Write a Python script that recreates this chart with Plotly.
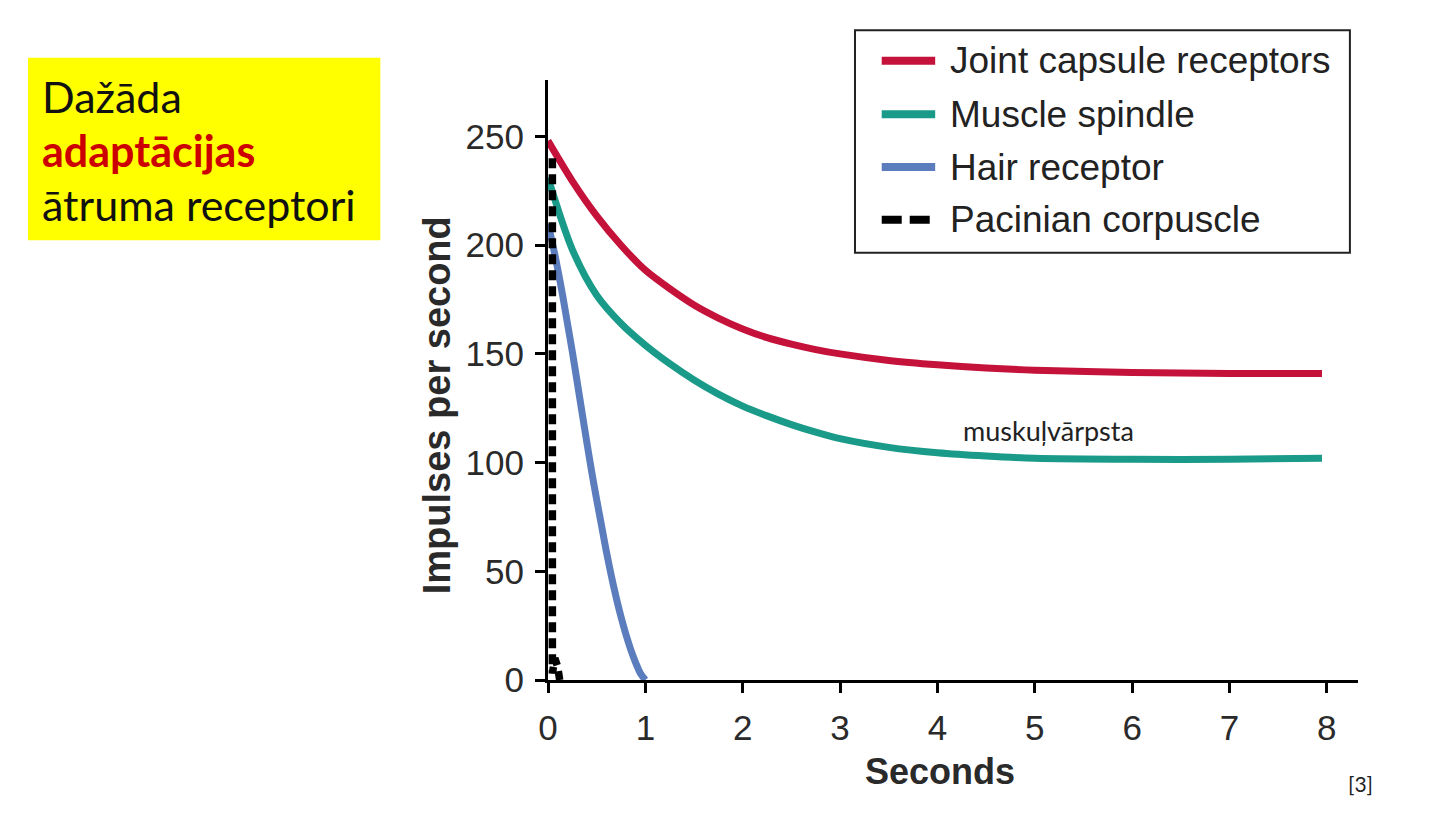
import plotly.graph_objects as go

# ---- data ----
series_names = ["Joint capsule receptors", "Muscle spindle", "Hair receptor", "Pacinian corpuscle"]
series_colors = ["#c4123a", "#1a9a88", "#5b7dbd", "#000000"]

joint_x = [0, 0.25, 0.5, 0.75, 1, 1.25, 1.5, 1.75, 2, 2.25, 2.5, 2.75, 3, 3.5, 4, 4.5, 5, 6, 7, 7.95]
joint_y = [248, 229.5, 213.5, 200, 188.5, 180, 172.5, 166.5, 161.5, 157.5, 154.5, 152, 150, 147, 145, 143.5, 142.5, 141.5, 141, 141]

spindle_x = [0, 0.25, 0.5, 0.75, 1, 1.25, 1.5, 1.75, 2, 2.25, 2.5, 2.75, 3, 3.5, 4, 4.5, 5, 6, 7, 7.95]
spindle_y = [231, 198, 177, 164, 154, 145.5, 138, 131.5, 126, 121.5, 117.5, 114, 111, 107, 104.5, 103, 102, 101.5, 101.5, 102]

hair_x = [0, 0.05, 0.1, 0.15, 0.2, 0.25, 0.3, 0.35, 0.4, 0.45, 0.5, 0.55, 0.6, 0.65, 0.7, 0.75, 0.8, 0.85, 0.9, 0.95, 1.0]
hair_y = [210, 200, 189, 177, 164, 151, 137, 123, 109, 95.5, 83, 71, 59, 48, 38, 29, 21, 14, 8, 3, 0]

pacinian_x = [0.045, 0.045, 0.07, 0.1, 0.12]
pacinian_y = [240, 3, 10, 6, 0]

x_ticks = [0, 1, 2, 3, 4, 5, 6, 7, 8]
y_ticks = [0, 50, 100, 150, 200, 250]

x_title = "Seconds"
y_title = "Impulses per second"
box_lines = ["Dažāda", "adaptācijas", "ātruma receptori"]
note_text = "muskuļvārpsta"
note_pos = (5.14, 115)
ref_text = "[3]"

# ---- figure ----
fig = go.Figure()
data = [(joint_x, joint_y, "solid"), (spindle_x, spindle_y, "solid"),
        (hair_x, hair_y, "solid"), (pacinian_x, pacinian_y, "10px,6px")]
for (xs, ys, dash), name, col in zip(data, series_names, series_colors):
    solid = dash == "solid"
    fig.add_trace(go.Scatter(x=xs, y=ys, mode="lines", name=name,
                             line=dict(color=col, width=7 if solid else 7.5, dash=dash,
                                       shape="spline" if solid else "linear",
                                       smoothing=0.8 if solid else None),
                             showlegend=False))

sans = "Liberation Sans, Arial, sans-serif"
axis_font = dict(family=sans, size=35, color="#2a2a2a")

fig.update_xaxes(range=[0, 8.32], tickvals=x_ticks, showline=True, linecolor="black",
                 linewidth=3, ticks="outside", ticklen=10, tickwidth=3, tickcolor="black",
                 showgrid=False, zeroline=False, tickfont=axis_font, ticklabelstandoff=5)
fig.update_yaxes(range=[0, 276], tickvals=y_ticks, showline=True, linecolor="black",
                 linewidth=3, ticks="outside", ticklen=10, tickwidth=3, tickcolor="black",
                 showgrid=False, zeroline=False, tickfont=axis_font, ticklabelstandoff=4)

shapes = []
annotations = []

# axis titles
annotations.append(dict(text="<b>%s</b>" % x_title, xref="paper", yref="paper",
                        x=0.484, y=-0.153, xanchor="center", yanchor="middle", showarrow=False,
                        font=dict(family=sans, size=36, color="#2a2a2a")))
annotations.append(dict(text="<b>%s</b>" % y_title, xref="paper", yref="paper",
                        x=-0.137, y=0.458, xanchor="center", yanchor="middle", textangle=-90,
                        showarrow=False, font=dict(family=sans, size=38, color="#2a2a2a")))

# manual legend
shapes.append(dict(type="rect", xref="paper", yref="paper", x0=0.379, x1=0.990, y0=0.712, y1=1.083,
                   line=dict(color="#222222", width=2), fillcolor="white", layer="below"))
legend_rows = [1.032, 0.943, 0.855, 0.767]
for name, col, yy in zip(series_names, series_colors, legend_rows):
    shapes.append(dict(type="line", xref="paper", yref="paper", x0=0.412, x1=0.478, y0=yy, y1=yy,
                       line=dict(color=col, width=8, dash="20px,8px" if col == "#000000" else "solid")))
    annotations.append(dict(text=name, xref="paper", yref="paper", x=0.494, y=yy, xanchor="left",
                            yanchor="middle", showarrow=False,
                            font=dict(family=sans, size=37, color="#222222")))

# yellow box
shapes.append(dict(type="rect", xref="paper", yref="paper", x0=-0.642, x1=-0.207, y0=0.733, y1=1.037,
                   line=dict(width=0), fillcolor="#ffff00"))
box_colors = ["#111111", "#cc0000", "#111111"]
box_rows = [0.972, 0.882, 0.793]
for txt, col, yy in zip(box_lines, box_colors, box_rows):
    annotations.append(dict(text=("<b>%s</b>" % txt) if col == "#cc0000" else txt,
                            xref="paper", yref="paper", x=-0.627, y=yy, xanchor="left",
                            yanchor="middle", showarrow=False,
                            font=dict(family="Lato, Open Sans, sans-serif", size=43, color=col)))

# note on muscle spindle
annotations.append(dict(text=note_text, x=note_pos[0], y=note_pos[1], xref="x", yref="y",
                        xanchor="center", yanchor="middle", showarrow=False,
                        font=dict(family="Lato, Open Sans, sans-serif", size=27, color="#222222")))
# reference
annotations.append(dict(text=ref_text, xref="paper", yref="paper", x=1.0025, y=-0.172,
                        xanchor="center", yanchor="middle", showarrow=False,
                        font=dict(family="Lato, Open Sans, sans-serif", size=21, color="#222222")))

fig.update_layout(width=1440, height=829, margin=dict(l=548, r=82, t=80, b=149),
                  paper_bgcolor="white", plot_bgcolor="white", showlegend=False,
                  shapes=shapes, annotations=annotations)

fig.write_html("out.html")
